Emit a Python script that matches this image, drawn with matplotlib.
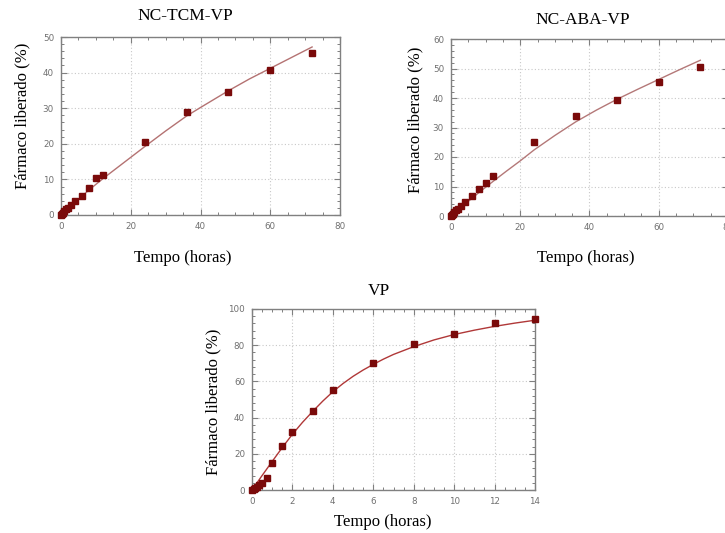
import matplotlib
matplotlib.use("Agg")
import matplotlib.pyplot as plt
from matplotlib.ticker import MultipleLocator, AutoMinorLocator

# Release data (time in hours, cumulative release in %)
tcm_t = [0, 0.25, 0.5, 1, 1.5, 2, 3, 4, 6, 8, 10, 12, 24, 36, 48, 60, 72]
tcm_v = [0, 0.4, 0.7, 1.2, 1.7, 2.1, 2.9, 3.9, 5.3, 7.6, 10.4, 11.2, 20.5, 28.8, 34.5, 40.6, 45.6]
tcm_fit_t = [0, 4, 8, 12, 16, 24, 30, 36, 40, 48, 54, 60, 66, 72]
tcm_fit_v = [0, 3.6, 7.0, 10.2, 13.2, 19.2, 23.6, 27.8, 30.2, 34.9, 38.2, 41.2, 44.2, 47.2]

aba_t = [0, 0.25, 0.5, 1, 1.5, 2, 3, 4, 6, 8, 10, 12, 24, 36, 48, 60, 72]
aba_v = [0, 0.4, 0.8, 1.4, 1.9, 2.4, 3.5, 4.9, 6.8, 9.2, 11.1, 13.5, 25.1, 33.8, 39.2, 45.3, 50.5]
aba_fit_t = [0, 4, 8, 12, 16, 20, 24, 30, 36, 42, 48, 54, 60, 66, 72]
aba_fit_v = [0, 4.0, 7.9, 11.6, 15.2, 18.7, 22.4, 27.3, 31.9, 35.9, 39.6, 43.0, 46.3, 49.6, 52.8]

vp_t = [0, 0.083, 0.167, 0.25, 0.33, 0.5, 0.75, 1, 1.5, 2, 3, 4, 6, 8, 10, 12, 14]
vp_v = [0, 0.5, 1.1, 1.8, 2.6, 3.6, 6.4, 14.8, 24.4, 32.0, 43.5, 55.0, 70.1, 80.4, 86.3, 92.3, 94.5]
vp_fit_t = [0, 0.5, 1, 1.5, 2, 2.5, 3, 3.5, 4, 4.5, 5, 5.5, 6, 6.5, 7, 8, 9, 10, 11, 12, 13, 14]
vp_fit_v = [0, 8.0, 15.8, 23.5, 30.8, 37.4, 43.4, 49.1, 54.3, 58.8, 62.8, 66.3, 69.4, 72.3,
            74.9, 79.2, 82.9, 85.9, 88.3, 90.4, 92.2, 93.8]

titles = ["NC-TCM-VP", "NC-ABA-VP", "VP"]
xlabel = "Tempo (horas)"
ylabel = "Fármaco liberado (%)"

serif = ["Liberation Serif", "DejaVu Serif"]
marker_color = "#7a0a0a"
spine_color = "#808080"

fig = plt.figure(figsize=(7.25, 5.33), dpi=100)
W, H = 725.0, 533.0


def box(x0, x1, ytop, ybot):
    return [x0 / W, (H - ybot) / H, (x1 - x0) / W, (ybot - ytop) / H]


def style(ax, xmax, xmaj, ymax, ymaj):
    ax.set_xlim(0, xmax)
    ax.set_ylim(0, ymax)
    ax.xaxis.set_major_locator(MultipleLocator(xmaj))
    ax.yaxis.set_major_locator(MultipleLocator(ymaj))
    ax.xaxis.set_minor_locator(AutoMinorLocator(4))
    ax.yaxis.set_minor_locator(AutoMinorLocator(5))
    ax.grid(True, which="major", linestyle=(0, (1, 2)), color="#c8c8c8", linewidth=0.8)
    ax.set_axisbelow(True)
    for s in ax.spines.values():
        s.set_color(spine_color)
        s.set_linewidth(1.0)
    ax.tick_params(which="both", direction="in", top=True, right=True,
                   colors=spine_color, labelcolor="#707070", labelsize=6.3)
    ax.tick_params(which="major", length=4, width=0.8, pad=5)
    ax.tick_params(which="minor", length=2, width=0.7)


def panel(rect, t, v, ft, fv, line_color, xmax, xmaj, ymax, ymaj):
    ax = fig.add_axes(rect)
    style(ax, xmax, xmaj, ymax, ymaj)
    ax.plot(ft, fv, color=line_color, linewidth=1.0, zorder=2, clip_on=False)
    ax.plot(t, v, linestyle="none", marker="s", markersize=4.3,
            color=marker_color, zorder=3, clip_on=False)
    return ax


ax1 = panel(box(61, 340, 37, 215), tcm_t, tcm_v, tcm_fit_t, tcm_fit_v,
            "#b47272", 80, 20, 50, 10)
ax2 = panel(box(451, 728, 39, 216), aba_t, aba_v, aba_fit_t, aba_fit_v,
            "#b47878", 80, 20, 60, 10)
ax3 = panel(box(252, 535, 309, 490), vp_t, vp_v, vp_fit_t, vp_fit_v,
            "#b03838", 14, 2, 100, 20)

# Titles and axis labels
fig.text(185 / W, 1 - 16 / H, titles[0], ha="center", va="center", fontsize=12.5, family=serif)
fig.text(583 / W, 1 - 20 / H, titles[1], ha="center", va="center", fontsize=12.5, family=serif)
fig.text(379 / W, 1 - 291 / H, titles[2], ha="center", va="center", fontsize=12.5, family=serif)

fig.text(183 / W, 1 - 258 / H, xlabel, ha="center", va="center", fontsize=12, family=serif)
fig.text(586 / W, 1 - 258 / H, xlabel, ha="center", va="center", fontsize=12, family=serif)
fig.text(383 / W, 1 - 522 / H, xlabel, ha="center", va="center", fontsize=12, family=serif)

fig.text(22 / W, 1 - 116 / H, ylabel, ha="center", va="center", rotation=90, fontsize=12, family=serif)
fig.text(415 / W, 1 - 120 / H, ylabel, ha="center", va="center", rotation=90, fontsize=12, family=serif)
fig.text(213 / W, 1 - 402 / H, ylabel, ha="center", va="center", rotation=90, fontsize=12, family=serif)

fig.savefig("out.png", dpi=100, facecolor="white")
